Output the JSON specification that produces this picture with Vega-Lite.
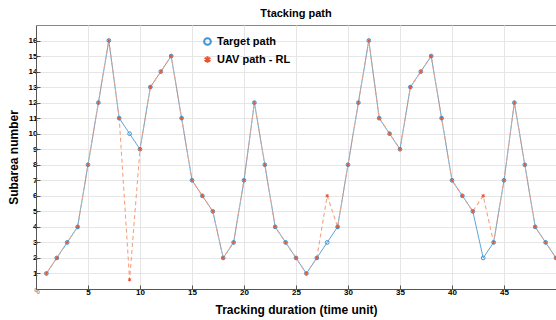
{
  "$schema": "https://vega.github.io/schema/vega-lite/v6.json",
  "autosize": {"type": "none"},
  "padding": {"left": 36, "top": 25, "right": 0, "bottom": 31},
  "width": 520,
  "height": 264,
  "background": "white",
  "config": {
    "font": "Liberation Sans",
    "view": {"stroke": "#888", "strokeWidth": 1},
    "axis": {
      "gridColor": "#e6e6e6",
      "gridWidth": 1,
      "domainColor": "#555",
      "tickColor": "#555",
      "labelFont": "Liberation Sans",
      "labelFontWeight": "bold",
      "labelFontSize": 8,
      "labelColor": "#000",
      "titleFont": "Liberation Sans",
      "titleFontWeight": "bold",
      "titleFontSize": 12,
      "titleColor": "#000"
    }
  },
  "title": {
    "text": "Ttacking path",
    "font": "Liberation Sans",
    "fontSize": 11,
    "fontWeight": "bold",
    "color": "#000",
    "anchor": "middle",
    "offset": 6
  },
  "data": {
    "values": [
      {"t": 1, "s": "Target path", "v": 1}, {"t": 2, "s": "Target path", "v": 2}, {"t": 3, "s": "Target path", "v": 3}, {"t": 4, "s": "Target path", "v": 4}, {"t": 5, "s": "Target path", "v": 8},
      {"t": 6, "s": "Target path", "v": 12}, {"t": 7, "s": "Target path", "v": 16}, {"t": 8, "s": "Target path", "v": 11}, {"t": 9, "s": "Target path", "v": 10}, {"t": 10, "s": "Target path", "v": 9},
      {"t": 11, "s": "Target path", "v": 13}, {"t": 12, "s": "Target path", "v": 14}, {"t": 13, "s": "Target path", "v": 15}, {"t": 14, "s": "Target path", "v": 11}, {"t": 15, "s": "Target path", "v": 7},
      {"t": 16, "s": "Target path", "v": 6}, {"t": 17, "s": "Target path", "v": 5}, {"t": 18, "s": "Target path", "v": 2}, {"t": 19, "s": "Target path", "v": 3}, {"t": 20, "s": "Target path", "v": 7},
      {"t": 21, "s": "Target path", "v": 12}, {"t": 22, "s": "Target path", "v": 8}, {"t": 23, "s": "Target path", "v": 4}, {"t": 24, "s": "Target path", "v": 3}, {"t": 25, "s": "Target path", "v": 2},
      {"t": 26, "s": "Target path", "v": 1}, {"t": 27, "s": "Target path", "v": 2}, {"t": 28, "s": "Target path", "v": 3}, {"t": 29, "s": "Target path", "v": 4}, {"t": 30, "s": "Target path", "v": 8},
      {"t": 31, "s": "Target path", "v": 12}, {"t": 32, "s": "Target path", "v": 16}, {"t": 33, "s": "Target path", "v": 11}, {"t": 34, "s": "Target path", "v": 10}, {"t": 35, "s": "Target path", "v": 9},
      {"t": 36, "s": "Target path", "v": 13}, {"t": 37, "s": "Target path", "v": 14}, {"t": 38, "s": "Target path", "v": 15}, {"t": 39, "s": "Target path", "v": 11}, {"t": 40, "s": "Target path", "v": 7},
      {"t": 41, "s": "Target path", "v": 6}, {"t": 42, "s": "Target path", "v": 5}, {"t": 43, "s": "Target path", "v": 2}, {"t": 44, "s": "Target path", "v": 3}, {"t": 45, "s": "Target path", "v": 7},
      {"t": 46, "s": "Target path", "v": 12}, {"t": 47, "s": "Target path", "v": 8}, {"t": 48, "s": "Target path", "v": 4}, {"t": 49, "s": "Target path", "v": 3}, {"t": 50, "s": "Target path", "v": 2},
      {"t": 1, "s": "UAV path - RL", "v": 1}, {"t": 2, "s": "UAV path - RL", "v": 2}, {"t": 3, "s": "UAV path - RL", "v": 3}, {"t": 4, "s": "UAV path - RL", "v": 4}, {"t": 5, "s": "UAV path - RL", "v": 8},
      {"t": 6, "s": "UAV path - RL", "v": 12}, {"t": 7, "s": "UAV path - RL", "v": 16}, {"t": 8, "s": "UAV path - RL", "v": 11}, {"t": 9, "s": "UAV path - RL", "v": 0.6}, {"t": 10, "s": "UAV path - RL", "v": 9},
      {"t": 11, "s": "UAV path - RL", "v": 13}, {"t": 12, "s": "UAV path - RL", "v": 14}, {"t": 13, "s": "UAV path - RL", "v": 15}, {"t": 14, "s": "UAV path - RL", "v": 11}, {"t": 15, "s": "UAV path - RL", "v": 7},
      {"t": 16, "s": "UAV path - RL", "v": 6}, {"t": 17, "s": "UAV path - RL", "v": 5}, {"t": 18, "s": "UAV path - RL", "v": 2}, {"t": 19, "s": "UAV path - RL", "v": 3}, {"t": 20, "s": "UAV path - RL", "v": 7},
      {"t": 21, "s": "UAV path - RL", "v": 12}, {"t": 22, "s": "UAV path - RL", "v": 8}, {"t": 23, "s": "UAV path - RL", "v": 4}, {"t": 24, "s": "UAV path - RL", "v": 3}, {"t": 25, "s": "UAV path - RL", "v": 2},
      {"t": 26, "s": "UAV path - RL", "v": 1}, {"t": 27, "s": "UAV path - RL", "v": 2}, {"t": 28, "s": "UAV path - RL", "v": 6}, {"t": 29, "s": "UAV path - RL", "v": 4}, {"t": 30, "s": "UAV path - RL", "v": 8},
      {"t": 31, "s": "UAV path - RL", "v": 12}, {"t": 32, "s": "UAV path - RL", "v": 16}, {"t": 33, "s": "UAV path - RL", "v": 11}, {"t": 34, "s": "UAV path - RL", "v": 10}, {"t": 35, "s": "UAV path - RL", "v": 9},
      {"t": 36, "s": "UAV path - RL", "v": 13}, {"t": 37, "s": "UAV path - RL", "v": 14}, {"t": 38, "s": "UAV path - RL", "v": 15}, {"t": 39, "s": "UAV path - RL", "v": 11}, {"t": 40, "s": "UAV path - RL", "v": 7},
      {"t": 41, "s": "UAV path - RL", "v": 6}, {"t": 42, "s": "UAV path - RL", "v": 5}, {"t": 43, "s": "UAV path - RL", "v": 6}, {"t": 44, "s": "UAV path - RL", "v": 3}, {"t": 45, "s": "UAV path - RL", "v": 7},
      {"t": 46, "s": "UAV path - RL", "v": 12}, {"t": 47, "s": "UAV path - RL", "v": 8}, {"t": 48, "s": "UAV path - RL", "v": 4}, {"t": 49, "s": "UAV path - RL", "v": 3}, {"t": 50, "s": "UAV path - RL", "v": 2}
    ]
  },
  "encoding": {
    "x": {
      "field": "t",
      "type": "quantitative",
      "scale": {"domain": [0, 50], "nice": false, "zero": false},
      "axis": {
        "title": "Tracking duration (time unit)",
        "values": [0, 5, 10, 15, 20, 25, 30, 35, 40, 45],
        "tickSize": -4,
        "labelPadding": 3,
        "titlePadding": 8,
        "labelColor": {"expr": "datum.value == 0 ? '#999' : '#000'"},
        "labelFontSize": {"expr": "datum.value == 0 ? 6 : 8"}
      }
    },
    "y": {
      "field": "v",
      "type": "quantitative",
      "scale": {"domain": [0, 17], "nice": false, "zero": true},
      "axis": {
        "title": "Subarea number",
        "values": [0, 1, 2, 3, 4, 5, 6, 7, 8, 9, 10, 11, 12, 13, 14, 15, 16],
        "tickSize": -4,
        "labelPadding": 3,
        "titlePadding": 8,
        "labelColor": {"expr": "datum.value == 0 ? '#999' : '#000'"},
        "labelFontSize": {"expr": "datum.value == 0 ? 6 : 8"}
      }
    }
  },
  "layer": [
    {
      "transform": [{"filter": "datum.s == 'Target path'"}],
      "mark": {"type": "line", "color": "#5ca6dc", "strokeWidth": 1},
      "encoding": {"order": {"field": "t"}}
    },
    {
      "transform": [{"filter": "datum.s == 'UAV path - RL'"}],
      "mark": {"type": "line", "color": "#f4a27f", "strokeWidth": 1.1, "strokeDash": [4, 3]},
      "encoding": {"order": {"field": "t"}}
    },
    {
      "mark": {"type": "point", "filled": false, "size": 14, "strokeWidth": 1, "opacity": 1},
      "encoding": {
        "shape": {
          "field": "s",
          "type": "nominal",
          "scale": {
            "domain": ["Target path", "UAV path - RL"],
            "range": ["circle", "M0,-1L0,1M-0.87,-0.5L0.87,0.5M-0.87,0.5L0.87,-0.5"]
          },
          "legend": {
            "title": null,
            "orient": "none",
            "legendX": 166,
            "legendY": 11,
            "labelFont": "Liberation Sans",
            "labelFontWeight": "bold",
            "labelFontSize": 11,
            "labelColor": "#000",
            "symbolSize": 45,
            "symbolStrokeWidth": 2,
            "rowPadding": 3,
            "labelOffset": 4,
            "padding": 0
          }
        },
        "color": {
          "field": "s",
          "type": "nominal",
          "scale": {
            "domain": ["Target path", "UAV path - RL"],
            "range": ["#3f96d4", "#e8532d"]
          },
          "legend": {
            "title": null,
            "orient": "none",
            "legendX": 166,
            "legendY": 11,
            "labelFont": "Liberation Sans",
            "labelFontWeight": "bold",
            "labelFontSize": 11,
            "labelColor": "#000",
            "symbolSize": 45,
            "symbolStrokeWidth": 2,
            "rowPadding": 3,
            "labelOffset": 4,
            "padding": 0
          }
        }
      }
    }
  ]
}
